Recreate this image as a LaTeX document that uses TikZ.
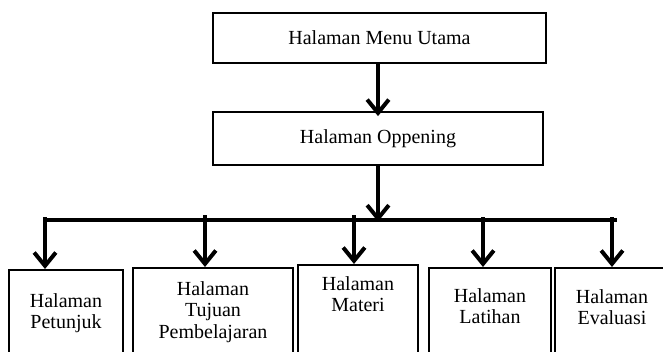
\documentclass[tikz,border=0pt]{standalone}
\usepackage{fontspec}
\setmainfont{Liberation Serif}
\usetikzlibrary{arrows.meta}
\begin{document}
\begin{tikzpicture}[x=0.6pt,y=-0.6pt,
    page/.style={draw,line width=1.1pt,inner sep=0pt,font=\fontsize{12}{13}\selectfont},
    txt/.style={align=center,inner sep=0pt,anchor=north,font=\fontsize{12}{12.9}\selectfont},
    link/.style={line width=2.4pt,-{Straight Barb[length=8pt,width=13pt]}}]
    \useasboundingbox (0,0) rectangle (663,351);
    \clip (0,0) rectangle (663,351);
    % atas
    \node[page,minimum width=199.8pt,minimum height=30pt] (menu) at (379.5,38) {Halaman Menu Utama};
    \node[page,minimum width=198pt,minimum height=31.8pt] (oppening) at (378,138.5) {Halaman Oppening};
    % kotak bawah
    \node[page,anchor=north,minimum width=68.4pt,minimum height=60pt] (petunjuk) at (66,269) {};
    \node[page,anchor=north,minimum width=96pt,minimum height=60pt] (tujuan) at (213,267) {};
    \node[page,anchor=north,minimum width=72pt,minimum height=60pt] (materi) at (358,264) {};
    \node[page,anchor=north,minimum width=73.2pt,minimum height=60pt] (latihan) at (490,267) {};
    \node[page,anchor=north,minimum width=68.4pt,minimum height=60pt] (evaluasi) at (612,267) {};
    \node[txt] (petunjukT) at (66,293) {Halaman\\Petunjuk};
    \node[txt] (tujuanT) at (213,281) {Halaman\\Tujuan\\Pembelajaran};
    \node[txt] (materiT) at (358,276) {Halaman\\Materi};
    \node[txt] (latihanT) at (490,288) {Halaman\\Latihan};
    \node[txt] (evaluasiT) at (612,289) {Halaman\\Evaluasi};
    % garis
    \coordinate (busL) at (43,220);
    \coordinate (busR) at (617,220);
    \coordinate (b1) at (45,217);
    \coordinate (b2) at (205,215);
    \coordinate (b3) at (354,215);
    \coordinate (b4) at (483,217);
    \coordinate (b5) at (612,217);
    \draw[link,shorten >=-3pt] (menu.south -| 378,0) -- (oppening.north -| 378,0);
    \draw[link,shorten >=-1pt] (oppening.south -| 378,0) -- (busL -| 378,0);
    \draw[line width=2.4pt] (busL) -- (busR);
    \draw[link] (b1) -- (b1 |- petunjuk.north);
    \draw[link] (b2) -- (b2 |- tujuan.north);
    \draw[link] (b3) -- (b3 |- materi.north);
    \draw[link] (b4) -- (b4 |- latihan.north);
    \draw[link] (b5) -- (b5 |- evaluasi.north);
\end{tikzpicture}
\end{document}
